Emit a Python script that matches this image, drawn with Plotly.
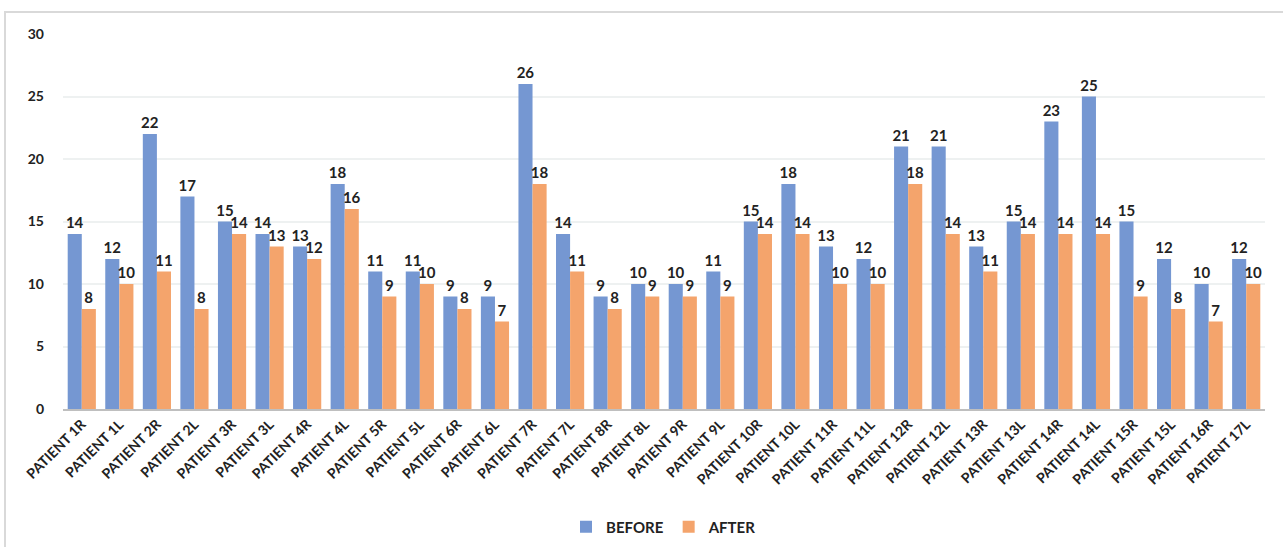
import plotly.graph_objects as go

categories = ["PATIENT 1R", "PATIENT 1L", "PATIENT 2R", "PATIENT 2L", "PATIENT 3R", "PATIENT 3L",
              "PATIENT 4R", "PATIENT 4L", "PATIENT 5R", "PATIENT 5L", "PATIENT 6R", "PATIENT 6L",
              "PATIENT 7R", "PATIENT 7L", "PATIENT 8R", "PATIENT 8L", "PATIENT 9R", "PATIENT 9L",
              "PATIENT 10R", "PATIENT 10L", "PATIENT 11R", "PATIENT 11L", "PATIENT 12R", "PATIENT 12L",
              "PATIENT 13R", "PATIENT 13L", "PATIENT 14R", "PATIENT 14L", "PATIENT 15R", "PATIENT 15L",
              "PATIENT 16R", "PATIENT 17L"]
before = [14, 12, 22, 17, 15, 14, 13, 18, 11, 11, 9, 9, 26, 14, 9, 10, 10, 11,
          15, 18, 13, 12, 21, 21, 13, 15, 23, 25, 15, 12, 10, 12]
after = [8, 10, 11, 8, 14, 13, 12, 16, 9, 10, 8, 7, 18, 11, 8, 9, 9, 9,
         14, 14, 10, 10, 18, 14, 11, 14, 14, 14, 9, 8, 7, 10]
y_ticks = [0, 5, 10, 15, 20, 25, 30]

FONT = "Lato"
label_font = dict(family=FONT, size=15, color="#222222", weight="bold")

fig = go.Figure()
fig.add_trace(go.Bar(
    x=categories, y=before, name="BEFORE",
    marker=dict(color="#7597D2", line=dict(width=0)),
    text=before, textposition="outside", textfont=label_font, cliponaxis=False,
    constraintext="none",
))
fig.add_trace(go.Bar(
    x=categories, y=after, name="AFTER",
    marker=dict(color="#F4A46C", line=dict(width=0)),
    text=after, textposition="outside", textfont=label_font, cliponaxis=False,
    constraintext="none",
))

W, H = 1283, 547
L, R, T, B = 63, 18, 34, 138
pw = W - L - R
ph = H - T - B

def px_x(p):
    return (p - L) / pw

def px_y(p):
    return (H - B - p) / ph

fig.update_layout(
    width=W, height=H,
    margin=dict(l=L, r=R, t=T, b=B, autoexpand=False),
    paper_bgcolor="white", plot_bgcolor="white",
    barmode="group", bargap=0.25, bargroupgap=0,
    font=dict(family=FONT, color="#222222"),
    showlegend=True,
    legend=dict(orientation="h", x=0.5, xanchor="center", y=px_y(527), yanchor="middle",
                font=dict(family=FONT, size=15, color="#222222", weight="bold"),
                itemwidth=30, tracegroupgap=0, traceorder="normal"),
    xaxis=dict(tickangle=-45, tickfont=dict(family=FONT, size=14, color="#222222", weight="bold"),
               showgrid=False, showline=True, linecolor="#BFBFBF", linewidth=1.5,
               ticks="", zeroline=False, automargin=False),
    yaxis=dict(range=[0, 30], tickvals=y_ticks, showgrid=True, gridcolor="#EEF1F1", gridwidth=1.5,
               tickfont=dict(family=FONT, size=14, color="#222222", weight="bold"),
               zeroline=False, showline=False, ticks="", ticklabelstandoff=18, automargin=False),
    shapes=[dict(type="rect", xref="paper", yref="paper",
                 x0=px_x(5), x1=px_x(1295), y0=px_y(560), y1=px_y(12),
                 line=dict(color="#D9D9D9", width=2), fillcolor="rgba(0,0,0,0)", layer="below")],
)

fig.write_html("out.html")
